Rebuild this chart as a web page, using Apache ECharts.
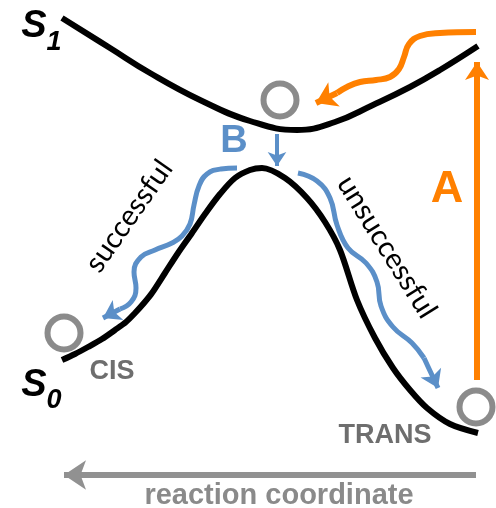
<!DOCTYPE html>
<html>
<head>
<meta charset="utf-8">
<script src="https://cdn.jsdelivr.net/npm/echarts@6/dist/echarts.min.js"></script>
<style>html,body{margin:0;padding:0;background:#fff}#c{width:496px;height:508px}</style>
</head>
<body>
<div id="c"></div>
<script>
// Diagram coordinates (x: reaction coordinate, y: energy, drawing units; y grows downward)
var s1Curve = [[62,18],[110,48],[150,73],[200,100],[250,121],[297,130],[335,122],[373,105],[410,87],[440,70],[478,46]];
var s0Curve = [[62,360],[75,354],[88,347],[102,339],[115,330],[126,322],[135,313],[144,303],[152,293],[165,273],[178,253],[192,233],[205,214],[220,194],[235,178],[250,170],[262,168],[285,178],[307,198],[325,222],[340,250],[357,300],[375,338],[393,368],[410,390],[427,408],[450,424],[478,433]];
var circles = [[280,100],[64,333],[476,407]];
var orangeWiggle = [[476,32],[440,33],[420,36],[409,44],[404,57],[399,69],[390,77],[376,80],[360,82],[347,87],[337,93]];
var orangeWiggleTip = [[337,93],[316,103]];
var excitation = [[477,380],[477,62]];
var blueDrop = [[277,134],[277,166]];
var blueSuccess = [[237,168],[221,169],[207,174],[199,186],[194,205],[190,224],[182,236],[172,243],[155,250],[141,257],[134,272],[136,288],[131,302],[120,309]];
var blueSuccessTip = [[120,309],[103,318]];
var blueFail = [[298,173],[317,181],[330,198],[337,225],[348,248],[366,263],[377,282],[381,306],[393,327],[412,343],[424,358]];
var blueFailTip = [[424,358],[438,388]];
var axisArrow = [[476,475],[64,475]];

var ORANGE = '#ff8000', BLUE = '#5b8fc8', GRAY = '#6e6e6e', LGRAY = '#919191';

function arrowSeg(coords, color, width, size) {
  return {
    type: 'lines', coordinateSystem: 'cartesian2d', silent: true, z: 3,
    symbol: ['none', 'arrow'], symbolSize: size,
    lineStyle: { color: color, width: width, opacity: 1, curveness: 0 },
    data: [{ coords: coords }]
  };
}
function curve(data, color, width, smooth) {
  return {
    type: 'line', data: data, smooth: smooth || 0.45, showSymbol: false, silent: true, z: 2,
    lineStyle: { color: color, width: width, cap: 'butt' }
  };
}

var chart = echarts.init(document.getElementById('c'));
chart.setOption({
  animation: false,
  grid: { left: 0, right: 0, top: 0, bottom: 0 },
  xAxis: { type: 'value', min: 0, max: 496, show: false },
  yAxis: { type: 'value', min: 0, max: 508, inverse: true, show: false },
  series: [
    curve(s1Curve, '#000', 6),
    curve(s0Curve, '#000', 6, 0.3),
    curve(orangeWiggle, ORANGE, 6),
    arrowSeg(orangeWiggleTip, ORANGE, 6, 20),
    arrowSeg(excitation, ORANGE, 6, 18),
    arrowSeg(blueDrop, BLUE, 4, 14),
    curve(blueSuccess, BLUE, 5),
    arrowSeg(blueSuccessTip, BLUE, 5, 17),
    curve(blueFail, BLUE, 5),
    arrowSeg(blueFailTip, BLUE, 5, 17),
    arrowSeg(axisArrow, LGRAY, 6, 22),
    {
      type: 'scatter', data: circles, symbol: 'circle', symbolSize: 33, silent: true, z: 4,
      itemStyle: { color: 'rgba(0,0,0,0)', borderColor: GRAY, borderWidth: 6 }
    }
  ],
  graphic: [
    { type: 'text', x: 34, y: 27, style: { text: 'S', font: 'italic bold 38px "Liberation Sans"', fill: '#000', align: 'center', verticalAlign: 'middle' } },
    { type: 'text', x: 54, y: 43, style: { text: '1', font: 'italic bold 27px "Liberation Sans"', fill: '#000', align: 'center', verticalAlign: 'middle' } },
    { type: 'text', x: 34, y: 386, style: { text: 'S', font: 'italic bold 38px "Liberation Sans"', fill: '#000', align: 'center', verticalAlign: 'middle' } },
    { type: 'text', x: 54, y: 401, style: { text: '0', font: 'italic bold 27px "Liberation Sans"', fill: '#000', align: 'center', verticalAlign: 'middle' } },
    { type: 'text', x: 447, y: 190, style: { text: 'A', font: 'bold 45px "Liberation Sans"', fill: ORANGE, align: 'center', verticalAlign: 'middle' } },
    { type: 'text', x: 234, y: 142, style: { text: 'B', font: 'bold 38px "Liberation Sans"', fill: BLUE, align: 'center', verticalAlign: 'middle' } },
    { type: 'text', x: 112, y: 372, style: { text: 'CIS', font: 'bold 27px "Liberation Sans"', fill: GRAY, align: 'center', verticalAlign: 'middle' } },
    { type: 'text', x: 385, y: 436, style: { text: 'TRANS', font: 'bold 27px "Liberation Sans"', fill: GRAY, align: 'center', verticalAlign: 'middle' } },
    { type: 'text', x: 279, y: 496, style: { text: 'reaction coordinate', font: 'bold 29px "Liberation Sans"', fill: '#8a8a8a', align: 'center', verticalAlign: 'middle' } },
    { type: 'text', x: 129, y: 216, rotation: 55 * Math.PI / 180, style: { text: 'successful', font: '29px Lato', fill: '#000', align: 'center', verticalAlign: 'middle' } },
    { type: 'text', x: 387, y: 247, rotation: -58 * Math.PI / 180, style: { text: 'unsuccessful', font: '29px Lato', fill: '#000', align: 'center', verticalAlign: 'middle' } }
  ]
});
</script>
</body>
</html>
